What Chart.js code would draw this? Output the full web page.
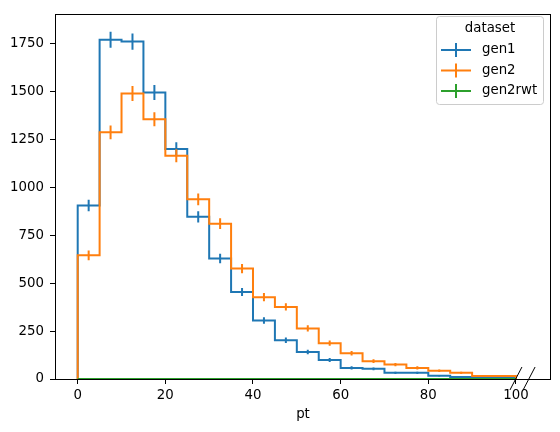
<!DOCTYPE html>
<html>
<head>
<meta charset="utf-8">
<script src="https://cdn.jsdelivr.net/npm/chart.js"></script>
<style>
  body { margin: 0; background: #fff; }
  #wrap { width: 560px; height: 432px; }
</style>
</head>
<body>
<div id="wrap"><canvas id="myChart"></canvas></div>
<script>
// bin edges (pt)
const edges = [0, 5, 10, 15, 20, 25, 30, 35, 40, 45, 50, 55, 60, 65, 70, 75, 80, 85, 90, 95, 100];

// bin contents
const gen1 = [905, 1770, 1760, 1495, 1200, 846, 629, 454, 305, 202, 141, 99, 58, 53, 32, 32, 17, 11, 6, 6];
const gen2 = [645, 1287, 1489, 1355, 1165, 937, 810, 576, 427, 376, 264, 187, 134, 93, 75, 58, 43, 32, 15, 15];
const gen2rwt = [0, 0, 0, 0, 0, 0, 0, 0, 0, 0, 0, 0, 0, 0, 0, 0, 0, 0, 0, 0];

// error bar half lengths
const gen1Err = [30, 42, 42, 39, 35, 29, 25, 21, 17, 14, 12, 10, 8, 7, 6, 6, 4, 3, 2, 2];
const gen2Err = [25, 36, 39, 37, 34, 31, 28, 24, 21, 19, 16, 14, 12, 10, 9, 8, 7, 6, 4, 4];
const gen2rwtErr = [0, 0, 0, 0, 0, 0, 0, 0, 0, 0, 0, 0, 0, 0, 0, 0, 0, 0, 0, 0];

const xTicks = [0, 20, 40, 60, 80, 100];
const yTicks = [0, 250, 500, 750, 1000, 1250, 1500, 1750];

const names = ['gen1', 'gen2', 'gen2rwt'];
const colors = ['#1f77b4', '#ff7f0e', '#2ca02c'];
const FONT = "'DejaVu Sans', sans-serif";

// step outline: up from 0 at the first edge, across each bin, down at the end
function stepPoints(vals) {
  const pts = [{x: edges[0], y: 0}];
  for (let i = 0; i < vals.length; i++) {
    pts.push({x: edges[i], y: vals[i]});
  }
  pts.push({x: edges[edges.length - 1], y: vals[vals.length - 1]});
  pts.push({x: edges[edges.length - 1], y: 0});
  return pts;
}

// vertical error bars at bin centres, separated by gaps
function errPoints(vals, errs) {
  const pts = [];
  for (let i = 0; i < vals.length; i++) {
    const c = (edges[i] + edges[i + 1]) / 2;
    pts.push({x: c, y: vals[i] - errs[i]});
    pts.push({x: c, y: vals[i] + errs[i]});
    pts.push({x: c, y: null});
  }
  return pts;
}

const series = [gen1, gen2, gen2rwt];
const errors = [gen1Err, gen2Err, gen2rwtErr];
const datasets = [];
// lower order is drawn on top, so gen2rwt ends up above gen2 above gen1
series.forEach((vals, k) => {
  datasets.push({
    label: names[k],
    data: stepPoints(vals),
    stepped: true,
    borderColor: colors[k],
    borderWidth: 2,
    pointRadius: 0,
    fill: false,
    clip: 0,
    order: 10 - 2 * k
  });
  datasets.push({
    label: names[k] + ' err',
    data: errPoints(vals, errors[k]),
    borderColor: colors[k],
    borderWidth: 2,
    pointRadius: 0,
    spanGaps: false,
    fill: false,
    clip: 0,
    order: 9 - 2 * k
  });
});

// black box round the plot area plus the overflow break marks
const framePlugin = {
  id: 'frame',
  afterDatasetsDraw(chart) {
    const {ctx, chartArea: a, scales} = chart;
    ctx.save();
    ctx.strokeStyle = '#000';
    ctx.lineWidth = 1;
    ctx.strokeRect(a.left + 0.5, a.top + 0.5, a.right - a.left - 1, a.bottom - a.top);
    // the two "/" marks on the x axis
    [100, 103].forEach(v => {
      const px = scales.x.getPixelForValue(v);
      ctx.beginPath();
      ctx.moveTo(px - 6, a.bottom + 11);
      ctx.lineTo(px + 6, a.bottom - 12);
      ctx.stroke();
    });
    ctx.restore();
  }
};

// matplotlib style legend with "+" markers
const legendPlugin = {
  id: 'mplLegend',
  afterDraw(chart) {
    const ctx = chart.ctx;
    const bx = 436.5, by = 16.5, bw = 107, bh = 88;
    ctx.save();
    ctx.beginPath();
    ctx.roundRect(bx, by, bw, bh, 3);
    ctx.fillStyle = 'rgba(255,255,255,0.8)';
    ctx.fill();
    ctx.strokeStyle = '#cccccc';
    ctx.lineWidth = 1;
    ctx.stroke();

    ctx.font = '13.33px ' + FONT;
    ctx.fillStyle = '#000';
    ctx.textBaseline = 'middle';
    ctx.textAlign = 'center';
    ctx.fillText('dataset', bx + bw / 2, 29);

    const rows = [50, 70.5, 91];
    ctx.textAlign = 'left';
    names.forEach((n, k) => {
      const y = rows[k];
      ctx.strokeStyle = colors[k];
      ctx.lineWidth = 2;
      ctx.beginPath();
      ctx.moveTo(441, y);
      ctx.lineTo(471, y);
      ctx.moveTo(456, y - 7);
      ctx.lineTo(456, y + 7);
      ctx.stroke();
      ctx.fillStyle = '#000';
      ctx.fillText(n, 482, y);
    });
    ctx.restore();
  }
};

const config = {
  type: 'line',
  data: {datasets: datasets},
  options: {
    responsive: true,
    maintainAspectRatio: false,
    animation: false,
    layout: {padding: {left: 0, right: 9, top: 9, bottom: 0}},
    plugins: {
      legend: {display: false},
      tooltip: {enabled: false}
    },
    scales: {
      x: {
        type: 'linear',
        min: -5.18,
        max: 108,
        afterBuildTicks(scale) {
          scale.ticks = xTicks.map(v => ({value: v}));
        },
        afterFit(scale) { scale.height = 53; },
        grid: {display: true, drawOnChartArea: false, drawTicks: true, tickLength: 5, color: '#000'},
        border: {display: false},
        ticks: {color: '#000', padding: 4, maxRotation: 0, font: {family: FONT, size: 13.33},
          callback: v => String(v)},
        title: {display: true, text: 'pt', color: '#000', padding: {top: 0, bottom: 9}, font: {family: FONT, size: 13.33}}
      },
      y: {
        min: 0,
        max: 1904,
        afterBuildTicks(scale) {
          scale.ticks = yTicks.map(v => ({value: v}));
        },
        afterFit(scale) { scale.width = 55; },
        grid: {display: true, drawOnChartArea: false, drawTicks: true, tickLength: 5, color: '#000'},
        border: {display: false},
        ticks: {color: '#000', padding: 6, font: {family: FONT, size: 13.33},
          callback: v => String(v)}
      }
    }
  },
  plugins: [framePlugin, legendPlugin]
};

const myChart = new Chart(document.getElementById('myChart'), config);
</script>
</body>
</html>
